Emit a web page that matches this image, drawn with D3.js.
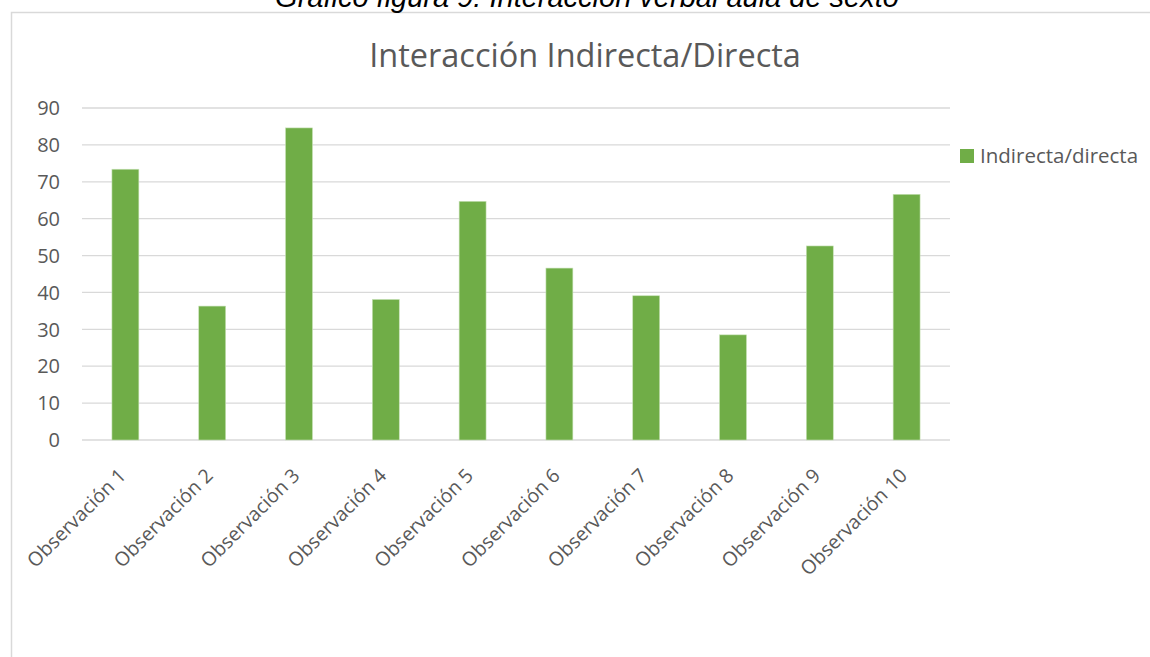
<!DOCTYPE html>
<html>
<head>
<meta charset="utf-8">
<script src="https://cdn.jsdelivr.net/npm/d3@7"></script>
<style>
  body { margin: 0; background: #fff; }
  svg { display: block; }
</style>
</head>
<body>
<svg></svg>
<script>
var categories = ["Observación 1", "Observación 2", "Observación 3", "Observación 4", "Observación 5",
                  "Observación 6", "Observación 7", "Observación 8", "Observación 9", "Observación 10"];
var values = [73.4, 36.3, 84.6, 38.1, 64.7, 46.6, 39.1, 28.5, 52.6, 66.6];
var yTicks = [0, 10, 20, 30, 40, 50, 60, 70, 80, 90];
var seriesName = "Indirecta/directa";
var chartTitle = "Interacción Indirecta/Directa";
var caption = "Gráfico figura 9: Interacción verbal aula de sexto";

var width = 1150;
var height = 657;
var font = "'Open Sans', sans-serif";

var svg = d3.select("svg")
            .attr("width", width)
            .attr("height", height);

// chart frame (only left and top visible)
svg.append("path")
   .attr("d", "M11.5," + height + "V12.5H" + width)
   .attr("fill", "none")
   .attr("stroke", "#d9d9d9")
   .attr("stroke-width", 1.5);

// caption above the chart, clipped at the top
svg.append("text")
   .attr("x", 587)
   .attr("y", 7)
   .attr("text-anchor", "middle")
   .style("font-family", "Arial, 'Liberation Sans', sans-serif")
   .style("font-style", "italic")
   .style("font-size", "29px")
   .attr("fill", "#000")
   .text(caption);

var plotLeft = 82, plotRight = 950, plotTop = 108, plotBottom = 440;

var xScale = d3.scaleBand()
               .domain(categories)
               .range([plotLeft, plotRight])
               .paddingInner(0.69)
               .paddingOuter(0.345);

var yScale = d3.scaleLinear()
               .domain([0, 90])
               .range([plotBottom, plotTop]);

// gridlines
svg.append("g")
   .selectAll("line")
   .data(yTicks)
   .enter().append("line")
     .attr("x1", plotLeft)
     .attr("x2", plotRight)
     .attr("y1", d => yScale(d))
     .attr("y2", d => yScale(d))
     .attr("stroke", "#d9d9d9")
     .attr("stroke-width", 1.3);

// y tick labels
svg.append("g")
   .selectAll("text")
   .data(yTicks)
   .enter().append("text")
     .attr("x", 60)
     .attr("y", d => yScale(d))
     .attr("dy", "0.36em")
     .attr("text-anchor", "end")
     .style("font-family", font)
     .style("font-size", "20px")
     .attr("fill", "#595959")
     .text(d => d);

// bars
svg.append("g")
   .selectAll("rect")
   .data(values)
   .enter().append("rect")
     .attr("x", (d, i) => xScale(categories[i]))
     .attr("y", d => yScale(d))
     .attr("width", xScale.bandwidth())
     .attr("height", d => yScale(0) - yScale(d))
     .attr("fill", "#70ad47")
     .attr("stroke", "#c5e0b4")
     .attr("stroke-width", 0.6);

// x labels, rotated
svg.append("g")
   .selectAll("text")
   .data(categories)
   .enter().append("text")
     .attr("transform", d => "translate(" + (xScale(d) + xScale.bandwidth() / 2 - 3) + "," + (plotBottom + 32) + ") rotate(-45)")
     .attr("text-anchor", "end")
     .attr("dy", "0.35em")
     .style("font-family", font)
     .style("font-size", "19.5px")
     .attr("fill", "#595959")
     .text(d => d);

// title
svg.append("text")
   .attr("x", 585)
   .attr("y", 67)
   .attr("text-anchor", "middle")
   .style("font-family", font)
   .style("font-size", "32.5px")
   .attr("fill", "#595959")
   .text(chartTitle);

// legend
svg.append("rect")
   .attr("x", 960)
   .attr("y", 149)
   .attr("width", 14)
   .attr("height", 14)
   .attr("fill", "#70ad47");

svg.append("text")
   .attr("x", 980)
   .attr("y", 156)
   .attr("dy", "0.36em")
   .style("font-family", font)
   .style("font-size", "20.5px")
   .attr("fill", "#595959")
   .text(seriesName);
</script>
</body>
</html>
